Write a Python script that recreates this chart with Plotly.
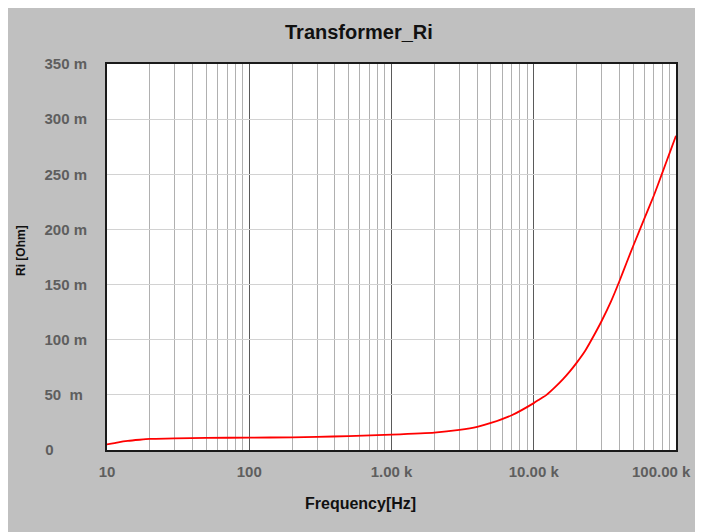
import plotly.graph_objects as go

# Data (frequency in Hz, Ri in milli-ohm)
freq_hz = [10, 12, 14, 17, 20, 30, 50, 100, 200, 300, 500, 1000, 2000, 3000,
           4000, 5000, 7000, 10000, 11000, 12300, 14000, 16000, 18000, 20000,
           23000, 26000, 30000, 35000, 40000, 45000, 50000, 60000, 70000,
           80000, 90000, 100000]
ri_mohm = [5.0, 7.0, 8.3, 9.3, 10.0, 10.6, 11.0, 11.2, 11.5, 11.9, 12.6, 14.0,
           15.8, 18.3, 21.0, 24.5, 31.5, 42.5, 46.0, 50.0, 56.5, 64.0, 71.5,
           79.0, 90.0, 102.0, 117.0, 135.0, 153.0, 170.0, 185.0, 210.0, 231.0,
           251.0, 269.0, 285.0]

x_tickvals = [10, 100, 1000, 10000, 100000]
x_ticktext = ["10", "100", "1.00 k", "10.00 k", "100.00 k"]
y_tickvals = [0, 50, 100, 150, 200, 250, 300, 350]
NB = "\u00a0"
y_ticktext = ["0" + NB * 8, "50" + NB * 2 + "m" + NB, "100 m", "150 m",
              "200 m", "250 m", "300 m", "350 m"]

# The page body adds an 8px offset; the figure fills the rest of the window.
OFF = 8
W, H = 703 - OFF, 532 - OFF
L, R, T, B = 99, 27, 56, 82
PW, PH = W - L - R, H - T - B


def px_x(px):  # px in window coordinates
    return (px - OFF - L) / PW


def px_y(py):
    return (H - (py - OFF) - B) / PH


fig = go.Figure()
fig.add_trace(go.Scatter(
    x=freq_hz, y=ri_mohm, mode="lines",
    line=dict(color="#ff0000", width=1.8, shape="spline", smoothing=0.5),
    hoverinfo="x+y", showlegend=False,
))

font_family = "Liberation Sans, Arial, sans-serif"
tick_font = dict(family=font_family, size=15, color="#5e5e5e", weight="bold")

# last x tick label sits at the right edge: draw it right-aligned so it stays whole
axis_ticktext = x_ticktext[:-1] + [""]

fig.update_layout(
    width=W, height=H,
    margin=dict(l=L, r=R, t=T, b=B, autoexpand=False),
    paper_bgcolor="#c0c0c0",
    plot_bgcolor="#ffffff",
    showlegend=False,
    annotations=[
        dict(text="Transformer_Ri", xref="paper", yref="paper",
             x=px_x(359), y=px_y(32), xanchor="center", yanchor="middle",
             showarrow=False,
             font=dict(family=font_family, size=20, color="#111111", weight="bold")),
        dict(text="Frequency[Hz]", xref="paper", yref="paper",
             x=px_x(360), y=px_y(503), xanchor="center", yanchor="middle",
             showarrow=False,
             font=dict(family=font_family, size=16, color="#111111", weight="bold")),
        dict(text="Ri [Ohm]", xref="paper", yref="paper",
             x=px_x(21), y=px_y(251), xanchor="center", yanchor="middle",
             textangle=-90, showarrow=False,
             font=dict(family=font_family, size=12, color="#111111", weight="bold")),
        dict(text=x_ticktext[-1], xref="paper", yref="paper",
             x=px_x(693), y=px_y(471), xanchor="right", yanchor="middle",
             showarrow=False, font=tick_font),
    ],
)

fig.update_xaxes(
    type="log", range=[1, 5],
    tickvals=x_tickvals, ticktext=axis_ticktext,
    tickfont=tick_font, ticks="", ticklabelstandoff=7,
    showgrid=True, gridcolor="#5a5a5a", gridwidth=1,
    minor=dict(dtick="D1", showgrid=True, gridcolor="#b0b0b0", gridwidth=1, ticks=""),
    showline=True, linecolor="#1a1a1a", linewidth=2, mirror=True,
    zeroline=False, automargin=False,
)
fig.update_yaxes(
    range=[0, 350],
    tickvals=y_tickvals, ticktext=y_ticktext,
    tickfont=tick_font, ticks="", ticklabelstandoff=15,
    showgrid=True, gridcolor="#d2d2d2", gridwidth=1,
    showline=True, linecolor="#1a1a1a", linewidth=2, mirror=True,
    zeroline=False, automargin=False,
)

fig.write_html("out.html")
